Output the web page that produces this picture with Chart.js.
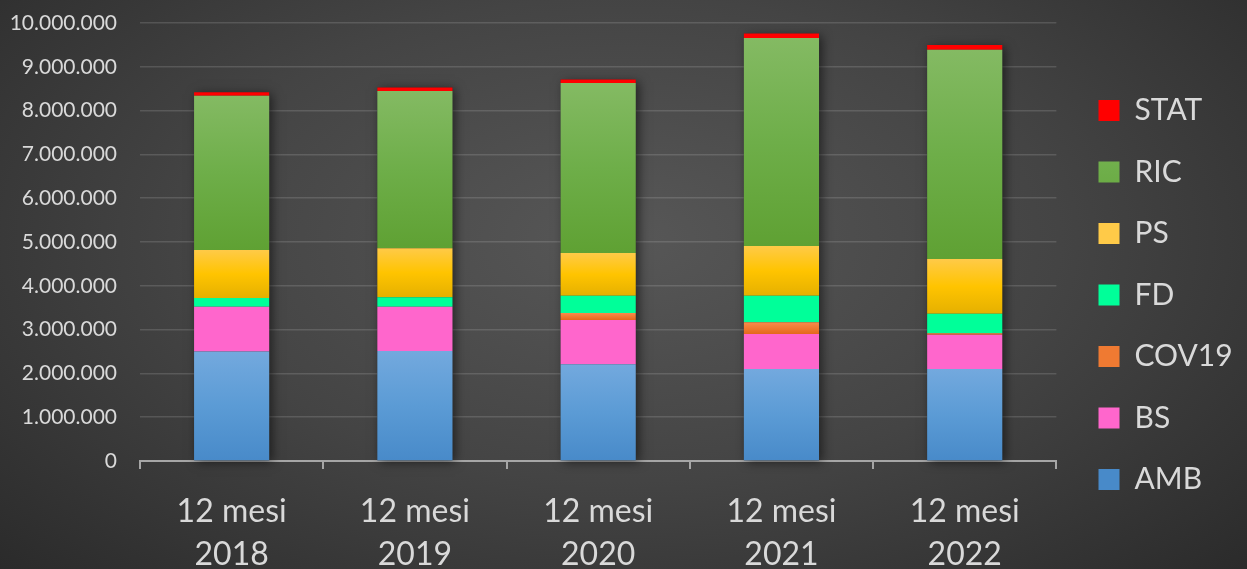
<!DOCTYPE html>
<html lang="it">
<head>
    <meta charset="UTF-8">
    <title>12 mesi 2018-2022</title>
    <script src="https://cdn.jsdelivr.net/npm/chart.js"></script>
    <style>
        html, body {
            margin: 0;
            padding: 0;
            width: 1247px;
            height: 569px;
            overflow: hidden;
            background: radial-gradient(ellipse 70% 85% at 50% 42%, #575757 0%, #444 50%, #2a2a2a 100%);
        }
        canvas { display: block; }
    </style>
</head>
<body>
    <canvas id="chart" width="1247" height="569"></canvas>

    <script>
        const labels = [['12 mesi', '2018'], ['12 mesi', '2019'], ['12 mesi', '2020'], ['12 mesi', '2021'], ['12 mesi', '2022']];

        // valori
        const amb   = [2500000, 2510000, 2210000, 2100000, 2100000];
        const bs    = [1020000, 1010000, 1010000, 800000, 780000];
        const cov19 = [0, 0, 160000, 270000, 35000];
        const fd    = [200000, 220000, 390000, 600000, 445000];
        const ps    = [1100000, 1120000, 980000, 1140000, 1250000];
        const ric   = [3520000, 3590000, 3880000, 4750000, 4780000];
        const stat  = [80000, 80000, 80000, 100000, 110000];

        const yTicks = [0, 1000000, 2000000, 3000000, 4000000, 5000000, 6000000, 7000000, 8000000, 9000000, 10000000];

        // gradient verticale per ogni segmento (chiaro in alto, scuro in basso)
        function grad(top, mid, bottom) {
            return function (c) {
                if (c.type !== 'data') return mid;
                const chart = c.chart;
                const y = chart.scales.y;
                if (!y) return mid;
                let start = 0;
                for (let i = 0; i < c.datasetIndex; i++) start += chart.data.datasets[i].data[c.dataIndex];
                const end = start + (c.raw || 0);
                const y0 = y.getPixelForValue(end), y1 = y.getPixelForValue(start);
                if (!isFinite(y0) || !isFinite(y1) || y1 - y0 < 1) return mid;
                const g = chart.ctx.createLinearGradient(0, y0, 0, y1);
                g.addColorStop(0, top);
                g.addColorStop(0.5, mid);
                g.addColorStop(1, bottom);
                return g;
            };
        }

        function fmt(v) {
            return String(v).replace(/\B(?=(\d{3})+(?!\d))/g, '.');
        }

        // ombra dietro le colonne
        const barShadow = {
            id: 'barShadow',
            beforeDatasetsDraw(chart) {
                const first = chart.getDatasetMeta(0);
                const last = chart.getDatasetMeta(chart.data.datasets.length - 1);
                const ctx = chart.ctx;
                ctx.save();
                ctx.shadowColor = 'rgba(0,0,0,0.55)';
                ctx.shadowBlur = 10;
                ctx.shadowOffsetX = 3;
                ctx.shadowOffsetY = 2;
                ctx.fillStyle = '#333';
                first.data.forEach((bar, i) => {
                    const p = bar.getProps(['x', 'base', 'width'], true);
                    const topY = last.data[i].getProps(['y'], true).y;
                    ctx.fillRect(p.x - p.width / 2, topY, p.width, p.base - topY);
                });
                ctx.restore();
            }
        };

        // sistema la posizione della legenda
        const legendShift = {
            id: 'legendShift',
            afterLayout(chart) {
                const lg = chart.legend;
                if (!lg) return;
                lg.left = 1067;
                lg.right = lg.left + lg.width;
                lg.top -= 1;
                lg.bottom -= 1;
            }
        };

        const chart = new Chart(document.getElementById('chart'), {
            type: 'bar',
            data: {
                labels: labels,
                datasets: [
                    { label: 'AMB', data: amb, backgroundColor: grad('#73a9de', '#5b9bd5', '#488ac9') },
                    { label: 'BS', data: bs, backgroundColor: '#ff66cc' },
                    { label: 'COV19', data: cov19, backgroundColor: grad('#f68b4d', '#ef7a32', '#e4681c') },
                    { label: 'FD', data: fd, backgroundColor: '#00ff99' },
                    { label: 'PS', data: ps, backgroundColor: grad('#ffca48', '#ffc400', '#e5b000') },
                    { label: 'RIC', data: ric, backgroundColor: grad('#84ba63', '#6eae49', '#5fa133') },
                    { label: 'STAT', data: stat, backgroundColor: '#ff0000' }
                ]
            },
            options: {
                responsive: false,
                animation: false,
                devicePixelRatio: 1,
                layout: { padding: { top: 23, right: 15, bottom: 0, left: 0 } },
                datasets: {
                    bar: { categoryPercentage: 1, barPercentage: 0.41, borderWidth: 0 }
                },
                scales: {
                    x: {
                        stacked: true,
                        afterFit: s => { s.height = 108; },
                        grid: {
                            offset: true,
                            drawOnChartArea: false,
                            drawTicks: true,
                            tickLength: 8,
                            color: '#a6a6a6',
                            lineWidth: 2
                        },
                        border: { color: '#a6a6a6', width: 2 },
                        ticks: {
                            color: '#d9d9d9',
                            padding: 21,
                            maxRotation: 0,
                            font: { family: 'Lato', size: 32, lineHeight: 1.35 }
                        }
                    },
                    y: {
                        stacked: true,
                        min: yTicks[0],
                        max: yTicks[yTicks.length - 1],
                        afterFit: s => { s.width = 140; s.paddingTop = 0; s.paddingBottom = 0; },
                        afterBuildTicks: s => { s.ticks = yTicks.map(v => ({ value: v })); },
                        grid: { color: 'rgba(217,217,217,0.17)', lineWidth: 1.5, drawTicks: false },
                        border: { display: false },
                        ticks: {
                            color: '#d9d9d9',
                            padding: 23,
                            font: { family: 'Lato', size: 21 },
                            callback: v => fmt(v)
                        }
                    }
                },
                plugins: {
                    tooltip: { enabled: false },
                    legend: {
                        position: 'right',
                        reverse: true,
                        labels: {
                            color: '#d9d9d9',
                            boxWidth: 21,
                            boxHeight: 21,
                            padding: 31.5,
                            font: { family: 'Lato', size: 30 }
                        }
                    }
                }
            },
            plugins: [barShadow, legendShift]
        });
    </script>
</body>
</html>
